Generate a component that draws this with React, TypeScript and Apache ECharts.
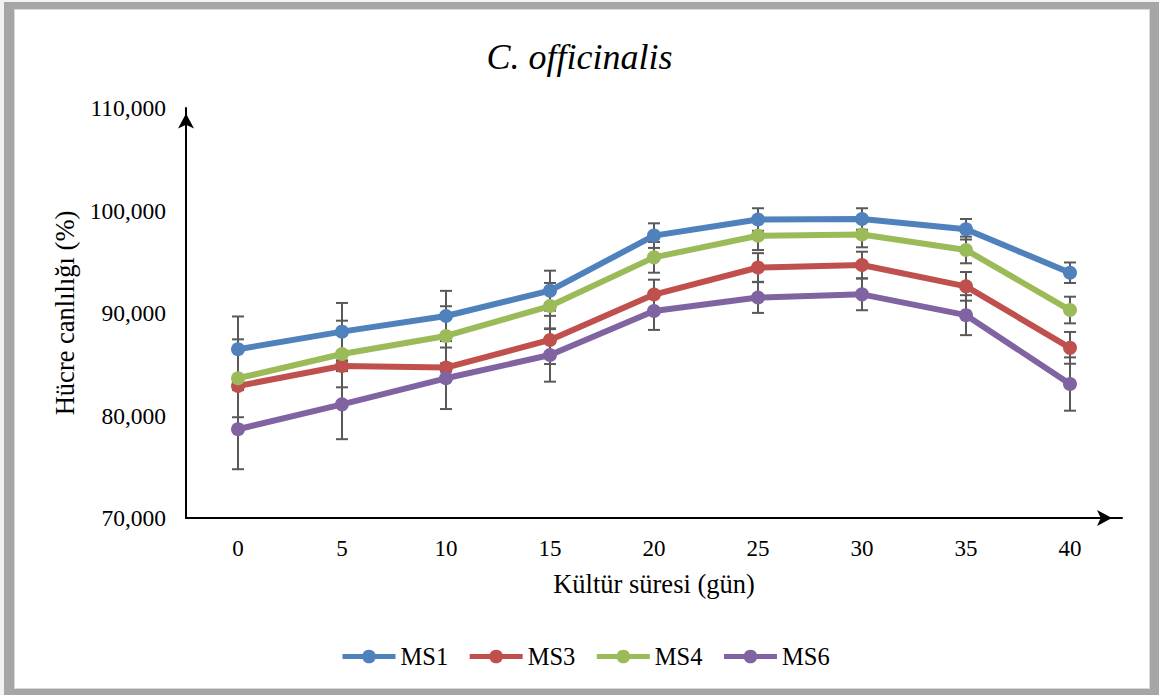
import React, { useEffect, useRef } from "react";
import * as echarts from "echarts";

const categories = ["0", "5", "10", "15", "20", "25", "30", "35", "40"];
const seriesNames = ["MS1", "MS3", "MS4", "MS6"];
const ms1 = [86460, 88180, 89710, 92180, 97550, 99120, 99170, 98170, 93930];
const ms3 = [82880, 84830, 84680, 87370, 91800, 94440, 94680, 92600, 86600];
const ms4 = [83630, 86000, 87760, 90680, 95430, 97540, 97660, 96150, 90290];
const ms6 = [78660, 81090, 83630, 85900, 90200, 91510, 91820, 89790, 83070];
const ms1Err = [3200, 2800, 2450, 1950, 1200, 1100, 1050, 1000, 1000];
const ms3Err = [400, 500, 400, 2350, 1450, 1400, 1300, 1400, 1550];
const ms4Err = [3800, 3250, 2900, 2250, 1500, 1400, 1250, 1300, 1300];
const ms6Err = [3900, 3400, 3000, 2600, 1850, 1500, 1550, 1950, 2600];
const colors = ["#4F81BD", "#C0504D", "#9BBB59", "#8064A2"];
const yMin = 70000;
const yMax = 110000;
const yStep = 10000;

const FONT = "Liberation Serif";

export default function App() {
  const ref = useRef<HTMLDivElement>(null);
  useEffect(() => {
    if (!ref.current) return;
    const chart = echarts.init(ref.current, null, { renderer: "svg" });
    const values = [ms1, ms3, ms4, ms6];
    const errs = [ms1Err, ms3Err, ms4Err, ms6Err];
    const errData: number[][] = [];
    values.forEach((vals, s) => {
      vals.forEach((v, i) => {
        errData.push([i, v - errs[s][i], v + errs[s][i]]);
      });
    });
    const lineSeries = seriesNames.map((name, s) => ({
      name,
      type: "line",
      data: values[s],
      symbol: "circle",
      symbolSize: 14,
      showSymbol: true,
      z: 3,
      color: colors[s],
      lineStyle: { width: 6, color: colors[s] },
      itemStyle: { color: colors[s] },
      emphasis: { disabled: true },
    }));
    chart.setOption({
      animation: false,
      textStyle: { fontFamily: FONT },
      title: {
        text: "C. officinalis",
        left: "center",
        top: 34,
        textStyle: {
          fontFamily: FONT,
          fontStyle: "italic",
          fontWeight: "normal",
          fontSize: 36,
          color: "#000",
        },
      },
      legend: {
        data: seriesNames,
        left: 335,
        top: 639,
        itemWidth: 53,
        itemHeight: 17,
        itemGap: 19,
        lineStyle: { width: 5 },
        textStyle: { fontFamily: FONT, fontSize: 24.5, color: "#000" },
      },
      grid: { left: 186, top: 108, width: 936, height: 410, containLabel: false },
      xAxis: {
        type: "category",
        data: categories,
        boundaryGap: true,
        axisLine: {
          show: true,
          symbol: ["none", "arrow"],
          symbolSize: [12, 15],
          symbolOffset: [0, -10],
          lineStyle: { color: "#000", width: 2 },
        },
        axisTick: { show: false },
        axisLabel: { fontFamily: FONT, fontSize: 23, color: "#000", margin: 19 },
        name: "Kültür süresi (gün)",
        nameLocation: "middle",
        nameGap: 52,
        nameTextStyle: { fontFamily: FONT, fontSize: 26.5, color: "#000" },
        splitLine: { show: false },
      },
      yAxis: {
        type: "value",
        min: yMin,
        max: yMax,
        interval: yStep,
        axisLine: {
          show: true,
          symbol: ["none", "arrow"],
          symbolSize: [12, 15],
          symbolOffset: [0, -5.5],
          lineStyle: { color: "#000", width: 2 },
        },
        axisTick: { show: false },
        splitLine: { show: false },
        axisLabel: {
          fontFamily: FONT,
          fontSize: 23.5,
          color: "#000",
          margin: 20,
          formatter: (v: number) => v.toLocaleString("en-US"),
        },
        name: "Hücre canlılığı (%)",
        nameLocation: "middle",
        nameGap: 104,
        nameTextStyle: { fontFamily: FONT, fontSize: 26.5, color: "#000" },
      },
      series: [
        {
          type: "custom",
          name: "err",
          z: 1,
          data: errData,
          encode: { x: 0, y: [1, 2] },
          silent: true,
          renderItem: (params: any, api: any) => {
            const x = api.value(0);
            const lo = api.coord([x, api.value(1)]);
            const hi = api.coord([x, api.value(2)]);
            const hw = 6;
            const style = { stroke: "#595959", lineWidth: 2 };
            return {
              type: "group",
              children: [
                { type: "line", shape: { x1: lo[0], y1: lo[1], x2: hi[0], y2: hi[1] }, style },
                { type: "line", shape: { x1: lo[0] - hw, y1: lo[1], x2: lo[0] + hw, y2: lo[1] }, style },
                { type: "line", shape: { x1: hi[0] - hw, y1: hi[1], x2: hi[0] + hw, y2: hi[1] }, style },
              ],
            };
          },
        },
        ...lineSeries,
      ],
    });
    return () => chart.dispose();
  }, []);

  return (
    <div style={{ position: "fixed", left: 0, top: 0, width: 1159, height: 695, background: "#f2f2f2" }}>
      <div style={{ position: "absolute", left: 4, top: 2, width: 1155, height: 693, background: "#a6a6a6" }} />
      <div style={{ position: "absolute", left: 14, top: 9, width: 1136, height: 680, background: "#d9d9d9" }} />
      <div style={{ position: "absolute", left: 15, top: 10, width: 1134, height: 678, background: "#ffffff" }} />
      <div ref={ref} style={{ position: "absolute", left: 0, top: 0, width: 1159, height: 695 }} />
    </div>
  );
}
